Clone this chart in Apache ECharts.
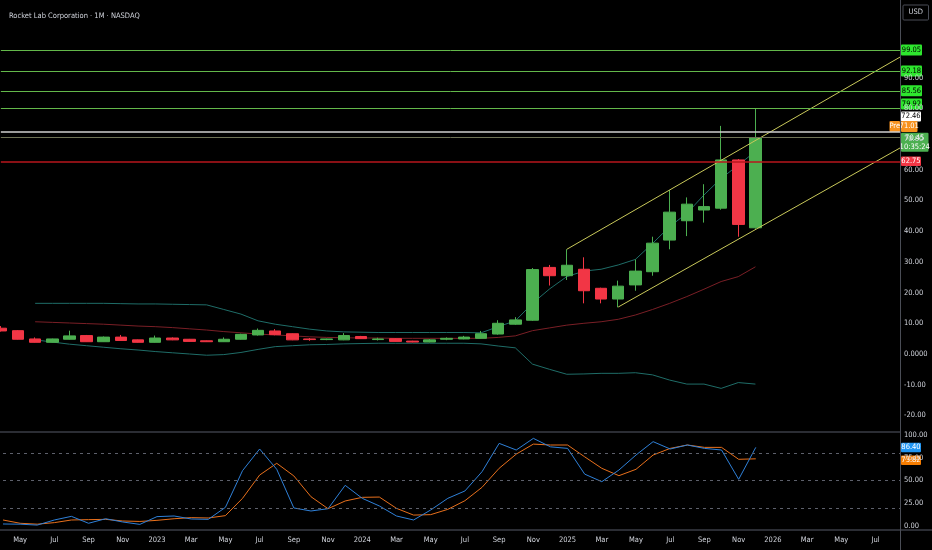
<!DOCTYPE html>
<html>
<head>
<meta charset="utf-8">
<script src="https://cdn.jsdelivr.net/npm/echarts@6/dist/echarts.min.js"></script>
<style>
  html, body { margin: 0; padding: 0; background: #000; }
  #chart { width: 932px; height: 550px; }
</style>
</head>
<body>
<div id="chart"></div>
<script>
// month index 0 = Apr 2022
const axisMonths = ['Apr','May','Jun','Jul','Aug','Sep','Oct','Nov','Dec',
  '2023','Feb','Mar','Apr','May','Jun','Jul','Aug','Sep','Oct','Nov','Dec',
  '2024','Feb','Mar','Apr','May','Jun','Jul','Aug','Sep','Oct','Nov','Dec',
  '2025','Feb','Mar','Apr','May','Jun','Jul','Aug','Sep','Oct','Nov','Dec',
  '2026','Feb','Mar','Apr','May','Jun','Jul','Aug'];

const candleOpen  = [8.4, 7.6, 4.9, 3.8, 4.8, 6.0, 4.0, 5.5, 4.6, 3.8, 5.2, 4.8, 4.3, 4.0, 4.8, 6.2, 7.5, 6.6, 4.9, 4.7, 4.6, 5.7, 4.7, 5.0, 4.2, 3.9, 4.8, 4.9, 5.1, 6.5, 9.7, 11.0, 28.2, 25.5, 27.6, 21.4, 17.9, 22.5, 26.8, 37.1, 43.4, 46.9, 47.5, 63.2, 41.1];
const candleClose = [7.5, 4.8, 3.8, 4.9, 5.9, 4.0, 5.5, 4.4, 3.8, 5.2, 4.6, 4.1, 4.0, 4.8, 6.4, 7.7, 6.3, 4.6, 4.7, 4.9, 6.0, 5.0, 4.9, 4.1, 3.9, 4.6, 5.1, 5.5, 6.6, 10.0, 11.1, 27.5, 25.5, 28.9, 20.6, 17.9, 22.1, 27.0, 36.1, 46.2, 48.8, 48.0, 63.2, 42.2, 70.45];
const candleLow   = [7.3, 4.7, 3.7, 3.7, 4.7, 3.9, 3.9, 4.3, 3.7, 3.7, 4.5, 4.0, 3.9, 3.9, 4.7, 6.0, 6.1, 4.5, 4.3, 4.5, 4.5, 4.9, 4.4, 4.0, 3.8, 3.8, 4.5, 4.8, 5.0, 6.3, 9.5, 10.8, 22.3, 24.1, 16.5, 16.5, 15.2, 20.6, 25.5, 34.1, 38.4, 42.8, 47.0, 38.2, 40.8];
const candleHigh  = [9.1, 7.8, 5.4, 5.0, 7.6, 6.2, 5.7, 6.2, 4.7, 6.0, 5.4, 4.9, 4.4, 5.4, 6.6, 8.3, 8.1, 6.7, 5.2, 5.0, 6.8, 5.9, 5.3, 5.2, 4.3, 4.9, 5.4, 5.9, 7.5, 11.0, 12.0, 28.0, 29.0, 34.1, 31.5, 21.6, 23.9, 30.8, 38.2, 53.4, 51.0, 55.3, 74.3, 63.5, 79.9];

// bollinger bands (start at Jun 2022)
const bbUpper = [null, null, 16.5, 16.5, 16.5, 16.5, 16.5, 16.4, 16.3, 16.3, 16.2, 16.1, 16.0, 14.5, 13.0, 10.8, 9.7, 8.9, 8.1, 7.5, 7.2, 7.1, 7.0, 7.0, 7.0, 7.0, 7.0, 7.0, 6.9, 8.9, 10.8, 16.5, 21.2, 25.2, 27.0, 27.6, 29.0, 30.8, 36.0, 41.5, 45.8, 51.8, 57.2, 61.5, 66.0];
const bbBasis = [null, null, 10.5, 10.3, 10.1, 9.9, 9.7, 9.4, 9.1, 8.9, 8.6, 8.2, 7.8, 7.3, 6.9, 6.5, 6.2, 5.9, 5.6, 5.4, 5.3, 5.2, 5.2, 5.1, 5.1, 5.1, 5.1, 5.1, 5.1, 5.4, 5.9, 7.6, 8.5, 9.4, 10.0, 10.5, 11.3, 12.7, 14.5, 16.5, 18.7, 21.1, 23.6, 25.2, 28.4];
const bbLower = [null, null, 4.6, 3.9, 3.2, 2.7, 2.2, 1.7, 1.3, 0.8, 0.4, 0.0, -0.4, -0.2, 0.5, 1.5, 2.4, 2.7, 3.0, 3.1, 3.3, 3.4, 3.5, 3.5, 3.5, 3.5, 3.5, 3.5, 3.3, 2.6, 2.0, -3.3, -5.0, -6.6, -6.5, -6.3, -6.3, -6.1, -6.8, -8.5, -9.8, -9.8, -11.2, -9.3, -9.8];

const stochK = [2.2, 2, 1, 6.6, 10.6, 3, 8, 4.4, 1.8, 10.3, 11, 7.7, 7.3, 20.5, 60.8, 84.6, 62.3, 19.8, 16.5, 19, 44.7, 30.4, 22, 11, 6.6, 17.6, 30.4, 38.5, 59.7, 90.8, 83.5, 96.3, 87, 85.3, 57, 48.7, 61.5, 78, 92.7, 84.6, 89, 85.3, 83.5, 51.3, 86.4];
const stochD = [6.6, 3, 2, 3.7, 6.6, 7, 7.3, 5.5, 5, 6.2, 8, 9.2, 8.8, 11.4, 30.4, 56, 68.9, 55, 32.2, 19, 27.5, 31.5, 31.8, 19.4, 12, 12.5, 18.3, 27.8, 42.5, 63.4, 79, 90, 89, 89, 76, 63.4, 55.3, 62.3, 78, 85.3, 89, 86.4, 86.4, 73.3, 73.82];
const stochLevels = [80, 50, 20];

const greenLevels = [99.05, 92.18, 85.56, 79.92];
const whiteLevel = 72.46;
const preMarket = 71.01;
const lastPrice = 70.45;
const redLevel = 62.75;
const countdown = '10:35:24';

// trend channel drawn on the chart: [month index, price]
const upperChannel = [[33, 34.1], [52.43, 96.7]];
const lowerChannel = [[36, 15.3], [52.43, 67.1]];

const FONT = '"Liberation Sans Narrow", "DejaVu Sans Condensed", Roboto, sans-serif';
const TXT = '#d1d4dc';
const UP = '#4caf50', DOWN = '#f23645';
const X_MAX = 52.43;

const chart = echarts.init(document.getElementById('chart'));

const candles = candleOpen.map((o, i) => [i, o, candleClose[i], candleLow[i], candleHigh[i]]);
const pts = arr => arr.map((v, i) => [i, v]).filter(p => p[1] != null);

const xLabel = v => {
    const i = Math.round(v);
    return (i >= 0 && i % 2 === 1) ? axisMonths[i] : '';
};

chart.setOption({
    backgroundColor: '#000',
    animation: false,
    title: {
        text: 'Rocket Lab Corporation · 1M · NASDAQ',
        left: 4, top: 7,
        textStyle: {color: TXT, fontSize: 7.5, fontWeight: 'normal', fontFamily: FONT}
    },
    grid: [
        {left: 0.85, right: 32, top: 0, height: 446.1},
        {left: 0.85, right: 32, top: 435, height: 91}
    ],
    xAxis: [
        {type: 'value', gridIndex: 0, min: 0, max: X_MAX, show: false},
        {
            type: 'value', gridIndex: 1, min: 0, max: X_MAX, interval: 1,
            axisLine: {show: false}, axisTick: {show: false}, splitLine: {show: false},
            axisLabel: {color: TXT, fontSize: 7.5, fontFamily: FONT, margin: 10, formatter: xLabel}
        }
    ],
    yAxis: [
        {
            type: 'value', gridIndex: 0, position: 'right', min: -30, max: 115.3, interval: 10,
            axisLine: {show: false}, axisTick: {show: false}, splitLine: {show: false},
            axisLabel: {
                color: TXT, fontSize: 7.5, fontFamily: FONT, margin: 4, showMaxLabel: false,
                formatter: v => (v >= 100 || v < -20) ? '' : (v === 0 ? '0.0000' : v.toFixed(2))
            }
        },
        {
            type: 'value', gridIndex: 1, position: 'right', min: 0, max: 100, interval: 25,
            axisLine: {show: false}, axisTick: {show: false}, splitLine: {show: false},
            axisLabel: {color: TXT, fontSize: 7.5, fontFamily: FONT, margin: 4, formatter: v => v.toFixed(2)}
        }
    ],
    series: [
        {
            type: 'line', xAxisIndex: 0, yAxisIndex: 0, data: pts(bbUpper),
            showSymbol: false, symbol: 'none', lineStyle: {color: '#1f6d68', width: 1}, z: 1
        },
        {
            type: 'line', xAxisIndex: 0, yAxisIndex: 0, data: pts(bbLower),
            showSymbol: false, symbol: 'none', lineStyle: {color: '#1f6d68', width: 1}, z: 1
        },
        {
            type: 'line', xAxisIndex: 0, yAxisIndex: 0, data: pts(bbBasis),
            showSymbol: false, symbol: 'none', lineStyle: {color: '#7a1f26', width: 1}, z: 1
        },
        {
            type: 'line', xAxisIndex: 0, yAxisIndex: 0, data: upperChannel,
            showSymbol: false, symbol: 'none', lineStyle: {color: '#c9c95a', width: 1}, z: 3
        },
        {
            type: 'line', xAxisIndex: 0, yAxisIndex: 0, data: lowerChannel,
            showSymbol: false, symbol: 'none', lineStyle: {color: '#c9c95a', width: 1}, z: 3
        },
        {
            type: 'candlestick', xAxisIndex: 0, yAxisIndex: 0, data: candles,
            encode: {x: 0, y: [1, 2, 3, 4]},
            barWidth: 12, clip: false,
            itemStyle: {color: UP, color0: DOWN, borderColor: UP, borderColor0: DOWN, borderWidth: 1},
            z: 2,
            markLine: {
                silent: true, symbol: 'none', animation: false,
                label: {show: false},
                data: greenLevels.map(v => ({yAxis: v, lineStyle: {color: '#63b84a', width: 1, type: 'solid'}}))
                    .concat([
                        {yAxis: whiteLevel, lineStyle: {color: '#cfcfcf', width: 1.5, type: 'solid'}},
                        {yAxis: lastPrice, lineStyle: {color: '#6e7256', width: 1, type: 'solid'}},
                        {yAxis: redLevel, lineStyle: {color: '#b8161c', width: 1.5, type: 'solid'}}
                    ])
            }
        },
        {
            type: 'line', xAxisIndex: 1, yAxisIndex: 1, data: pts(stochK),
            showSymbol: false, symbol: 'none', lineStyle: {color: '#2f80d8', width: 1}, z: 3,
            markLine: {
                silent: true, symbol: 'none', label: {show: false},
                lineStyle: {color: '#5d606b', width: 1, type: [3, 4]},
                data: stochLevels.map(v => ({yAxis: v}))
            }
        },
        {
            type: 'line', xAxisIndex: 1, yAxisIndex: 1, data: pts(stochD),
            showSymbol: false, symbol: 'none', lineStyle: {color: '#e8701c', width: 1}, z: 2
        }
    ]
});

// price tags on the right scale
const tagShift = {99.05: 0, 92.18: 0, 85.56: -0.5, 79.92: -4.5};
const yMain = v => chart.convertToPixel({yAxisIndex: 0}, v);
const yOsc = v => chart.convertToPixel({yAxisIndex: 1}, v);

function tag(x, yc, w, h, bg, fg, text, stroke) {
    return {
        type: 'group', z: 100,
        children: [
            {type: 'rect', shape: {x: x, y: yc - h / 2, width: w, height: h, r: 1},
             style: {fill: bg, stroke: stroke || null, lineWidth: 1}},
            {type: 'text', x: x + w / 2, y: yc,
             style: {text: text, fill: fg, font: '7.5px ' + FONT, align: 'center', verticalAlign: 'middle',
                     textAlign: 'center', textVerticalAlign: 'middle', lineHeight: 9}}
        ]
    };
}

const lastK = stochK[stochK.length - 1];
const lastD = stochD[stochD.length - 1];

const graphics = [
    {type: 'line', z: 90, shape: {x1: 0, y1: 432, x2: 900, y2: 432}, style: {stroke: '#3a3d46', lineWidth: 1.5}},
    {type: 'line', z: 90, shape: {x1: 0, y1: 530, x2: 932, y2: 530}, style: {stroke: '#3a3d46', lineWidth: 1.5}},
    {type: 'line', z: 90, shape: {x1: 900.5, y1: 0, x2: 900.5, y2: 550}, style: {stroke: '#4a4d56', lineWidth: 1}},
    tag(903, 12.5, 25.5, 15, '#000', TXT, 'USD', '#4a4d56')
];
greenLevels.forEach(v => {
    graphics.push(tag(901, yMain(v) + tagShift[v], 21, 11, '#2ee62e', '#000', v.toFixed(2)));
});
graphics.push(tag(901, yMain(whiteLevel) - 15, 20, 10, '#ffffff', '#000', whiteLevel.toFixed(2)));
graphics.push(tag(889.5, yMain(preMarket) - 9.5, 10.5, 11, '#f7921e', '#fff', 'Pre'));
graphics.push(tag(901, yMain(preMarket) - 9.5, 16.5, 11, '#f7921e', '#fff', preMarket.toFixed(2)));
graphics.push(tag(901, yMain(lastPrice) + 4.5, 27.5, 19, UP, '#fff', lastPrice.toFixed(2) + '\n' + countdown));
graphics.push(tag(901, yMain(redLevel), 20, 9.5, DOWN, '#fff', redLevel.toFixed(2)));
graphics.push(tag(901, yOsc(lastK), 20, 9.5, '#2196f3', '#fff', lastK.toFixed(2)));
graphics.push(tag(901, yOsc(lastD) + 1.5, 20, 9.5, '#f57c00', '#fff', lastD.toFixed(2)));

chart.setOption({graphic: graphics});
</script>
</body>
</html>
